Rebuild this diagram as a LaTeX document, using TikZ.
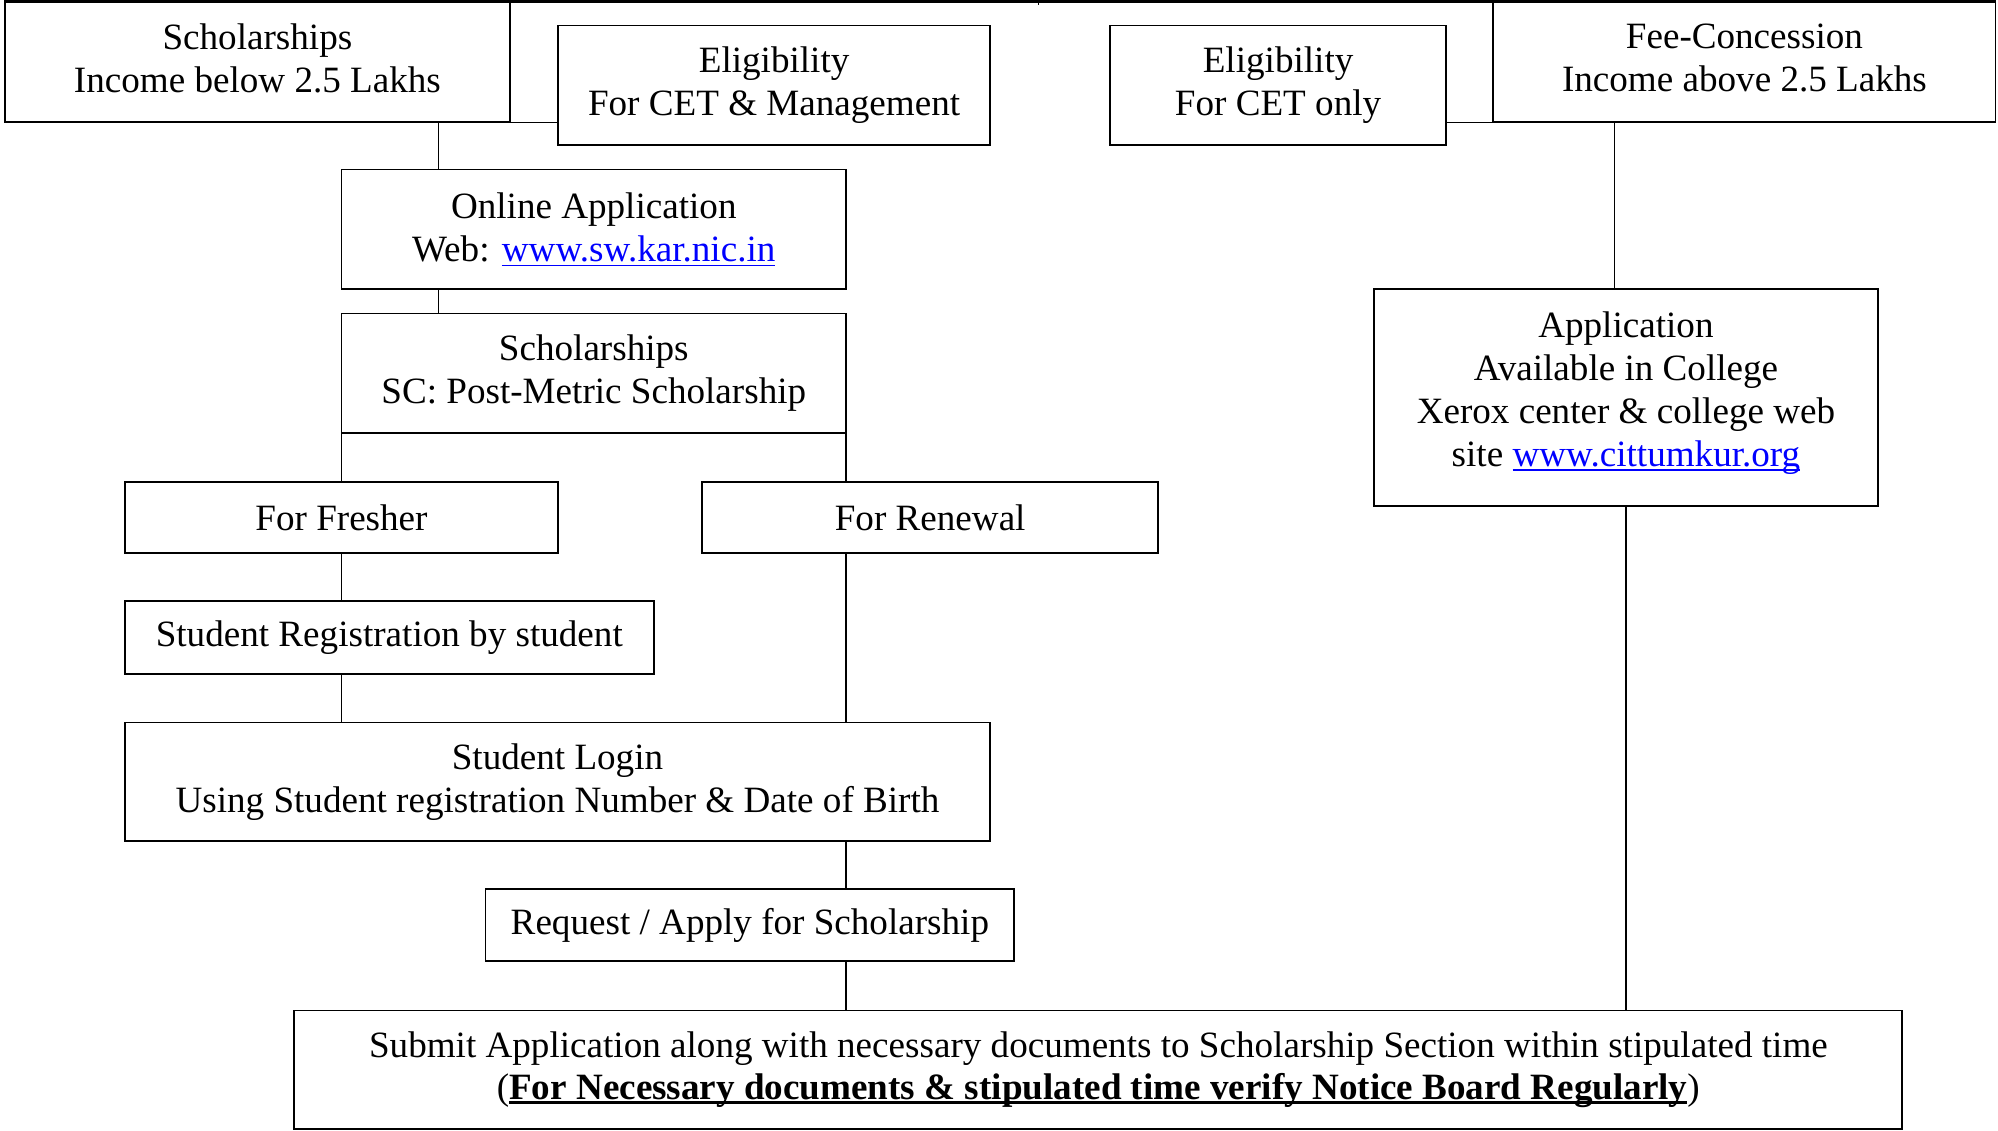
\documentclass[tikz,border=0pt]{standalone}
\usepackage{fontspec}
\setmainfont{Liberation Serif}
\definecolor{linkblue}{RGB}{0,0,255}
\newlength\uu
\setlength\uu{0.36255pt}
\newcommand\myul[3]{\setbox0\hbox{#3}\rlap{\rule[#1]{\wd0}{#2}}\box0}
\newcommand\linkt[1]{\textcolor{linkblue}{\myul{-1.3pt}{0.4pt}{#1}}}
\newcommand\mkbox[7][]{\node[boxnode, #1, minimum width={(#5-#3)*\uu}, minimum height={(#6-#4)*\uu}] (#2) at ({(#3+#5)/2},{(#4+#6)/2}) {#7};}
\begin{document}
\begin{tikzpicture}[x=0.36255pt, y=-0.36255pt,
  boxnode/.style={draw, line width=0.55pt, inner sep=0pt, outer sep=0pt, align=center, font=\fontsize{10.56}{12.2}\selectfont},
  raised/.style={text depth=2.3pt},
  raisedb/.style={text depth=4.9pt},
  conn/.style={line width=0.45pt},
  topline/.style={line width=0.85pt}]
\useasboundingbox (0,0) rectangle (1568,887);

\mkbox[raised]{sch}{4}{1}{400}{96}{Scholarships\\Income below 2.5 Lakhs}
\mkbox{eligA}{438}{20}{777}{114}{Eligibility\\For CET \& Management}
\mkbox{eligB}{871}{20}{1135}{114}{Eligibility\\For CET only}
\mkbox[raised]{fee}{1172}{1}{1566}{96}{Fee-Concession\\Income above 2.5 Lakhs}
\mkbox{online}{268}{133}{664}{227}{Online Application\\Web: \linkt{www.sw.kar.nic.in}}
\mkbox{scsch}{268}{246}{664}{340}{Scholarships\\SC: Post-Metric Scholarship}
\mkbox{fresh}{98}{378}{438}{434}{For Fresher}
\mkbox{renew}{551}{378}{909}{434}{For Renewal}
\mkbox{reg}{98}{472}{513}{529}{Student Registration by student}
\mkbox{login}{98}{567}{777}{660}{Student Login\\Using Student registration Number \& Date of Birth}
\mkbox{req}{381}{698}{796}{754}{Request / Apply for Scholarship}
\mkbox{submit}{231}{793}{1493}{886}{Submit Application along with necessary documents to Scholarship Section within stipulated time\\(\myul{-1.1pt}{0.8pt}{\textbf{For Necessary documents \& stipulated time verify Notice Board Regularly}})}
\mkbox[raisedb]{app}{1078}{227}{1474}{397}{Application\\Available in College\\Xerox center \& college web\\site \linkt{www.cittumkur.org}}

\coordinate (tick) at (815,0);
\coordinate (xa) at (344,0);
\coordinate (xb) at (664,0);
\coordinate (xc) at (1267,0);

\draw[topline] (sch.north west) -- (fee.north east);
\draw[conn] (tick) -- ++(0,4);
\draw[conn] (sch.south east) -- (sch.south east -| eligA.west);
\draw[conn] (fee.south west) -- (fee.south west -| eligB.east);
\draw[conn] (sch.south -| xa) -- (online.north -| xa);
\draw[conn] (online.south -| xa) -- (scsch.north -| xa);
\draw[conn] (scsch.south west) -- (scsch.south west |- fresh.north);
\draw[conn] (scsch.south east) -- (scsch.south east |- renew.north);
\draw[conn] (fresh.south) -- (fresh.south |- reg.north);
\draw[conn] (fresh.south |- reg.south) -- (fresh.south |- login.north);
\draw[conn] (renew.south -| xb) -- (login.north -| xb);
\draw[conn] (login.south -| xb) -- (req.north -| xb);
\draw[conn] (req.south -| xb) -- (submit.north -| xb);
\draw[conn] (fee.south -| xc) -- (app.north -| xc);
\draw[conn] (app.south) -- (app.south |- submit.north);
\end{tikzpicture}
\end{document}
